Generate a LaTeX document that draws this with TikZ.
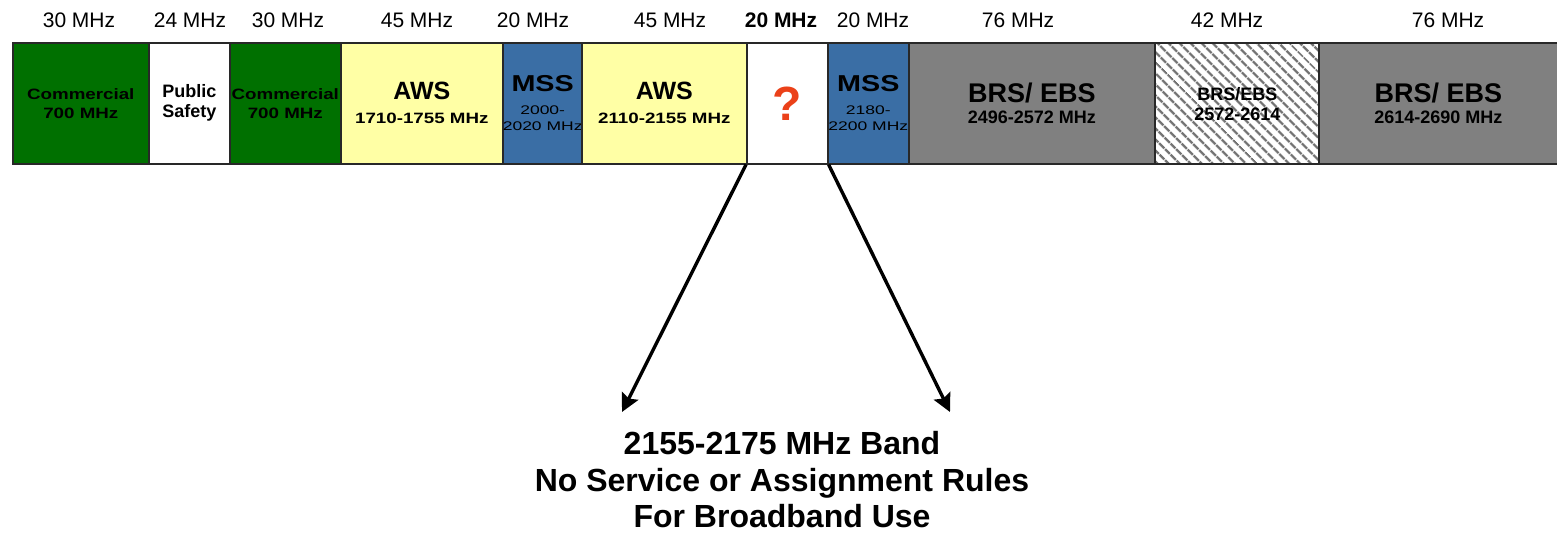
\documentclass[tikz,border=0pt]{standalone}
\usepackage{fontspec}
\setmainfont{Liberation Sans}
\newfontfamily\widefont[FakeStretch=1.25]{Liberation Sans}
\newfontfamily\widerfont[FakeStretch=1.4]{Liberation Sans}
\usepackage{tikz}
\usetikzlibrary{arrows.meta,patterns.meta}
\definecolor{commgreen}{RGB}{0,112,0}
\definecolor{awsyellow}{RGB}{255,255,165}
\definecolor{mssblue}{RGB}{58,110,165}
\definecolor{brsgray}{RGB}{128,128,128}
\definecolor{hatchgray}{RGB}{115,115,115}
\definecolor{qred}{RGB}{235,65,25}
\definecolor{edgegray}{RGB}{40,40,40}

\begin{document}
\begin{tikzpicture}[x=0.5pt, y=-0.5pt]
\tikzset{
        band/.style={draw=edgegray, line width=0.8pt, minimum height=60.5pt, inner sep=0pt, anchor=north west, align=center},
        freq/.style={font=\fontsize{10.5}{12}\selectfont, inner sep=0pt},
        pointer/.style={line width=1.7pt, -{Stealth[length=9pt,width=9pt,inset=1.5pt]}},
    }
\useasboundingbox (0,0) rectangle (1557,533);
  % the bands
  \node[band, fill=commgreen, minimum width=68pt, font=\widefont\bfseries\fontsize{7.5}{9.5}\selectfont] (c1) at (12,42) {Commercial\\700 MHz};
  \node[band, fill=white, minimum width=40.5pt, font=\bfseries\fontsize{9}{10}\selectfont] (ps) at (148,42) {Public\\Safety};
  \node[band, fill=commgreen, minimum width=55.5pt, font=\widefont\bfseries\fontsize{7.5}{9.5}\selectfont] (c2) at (229,42) {Commercial\\700 MHz};
  \node[band, fill=awsyellow, minimum width=81pt, font=\bfseries\fontsize{7.5}{12}\selectfont] (aws1) at (340,42) {{\fontsize{12.5}{14}\selectfont AWS}\\{\widefont\bfseries 1710-1755 MHz}};
  \node[band, fill=mssblue, minimum width=39.5pt, font=\fontsize{6.25}{8}\selectfont] (mss1) at (502,42) {{\widefont\bfseries\fontsize{11.5}{13}\selectfont MSS}\\[3.5pt]{\widerfont 2000-}\\{\widerfont 2020 MHz}};
  \node[band, fill=awsyellow, minimum width=82.5pt, font=\bfseries\fontsize{7.5}{12}\selectfont] (aws2) at (581,42) {{\fontsize{12.5}{14}\selectfont AWS}\\{\widefont\bfseries 2110-2155 MHz}};
  \node[band, fill=white, minimum width=40.5pt, font=\bfseries\fontsize{24}{26}\selectfont, text=qred] (q) at (746,42) {?};
  \node[band, fill=mssblue, minimum width=40.5pt, font=\fontsize{6.25}{8}\selectfont] (mss2) at (827,42) {{\widefont\bfseries\fontsize{11.5}{13}\selectfont MSS}\\[3.5pt]{\widerfont 2180-}\\{\widerfont 2200 MHz}};
  \node[band, fill=brsgray, minimum width=123pt, font=\bfseries\fontsize{9}{10.25}\selectfont] (brs1) at (908,42) {{\fontsize{13.5}{15}\selectfont BRS/ EBS}\\2496-2572 MHz};
  \node[band, pattern={Lines[angle=-45, distance=4pt, line width=1.3pt]}, pattern color=hatchgray, minimum width=82pt, font=\bfseries\fontsize{9}{10}\selectfont] (brs2) at (1154,42) {BRS/EBS\\2572-2614};
  \node[band, fill=brsgray, minimum width=119.5pt, font=\bfseries\fontsize{9}{10.25}\selectfont] (brs3) at (1318,42) {{\fontsize{13.5}{15}\selectfont BRS/ EBS}\\2614-2690 MHz};
  % widths above the bands
  \node[freq] (f1) at (79,20) {30 MHz};
  \node[freq] (f2) at (190,20) {24 MHz};
  \node[freq] (f3) at (288,20) {30 MHz};
  \node[freq] (f4) at (417,20) {45 MHz};
  \node[freq] (f5) at (533,20) {20 MHz};
  \node[freq] (f6) at (670,20) {45 MHz};
  \node[freq, font=\bfseries\fontsize{10.5}{12}\selectfont] (f7) at (781,20) {20 MHz};
  \node[freq] (f8) at (873,20) {20 MHz};
  \node[freq] (f9) at (1018,20) {76 MHz};
  \node[freq] (f10) at (1227,20) {42 MHz};
  \node[freq] (f11) at (1448,20) {76 MHz};
  % the open band
  \node[align=center, font=\bfseries\fontsize{16}{18.25}\selectfont] (note) at (782,480) {2155-2175 MHz Band\\No Service or Assignment Rules\\For Broadband Use};
  \coordinate (lefttip) at (622,412);
  \coordinate (righttip) at (950,412);
  \draw[pointer] (q.south west) -- (lefttip);
  \draw[pointer] (q.south east) -- (righttip);
\end{tikzpicture}
\end{document}
